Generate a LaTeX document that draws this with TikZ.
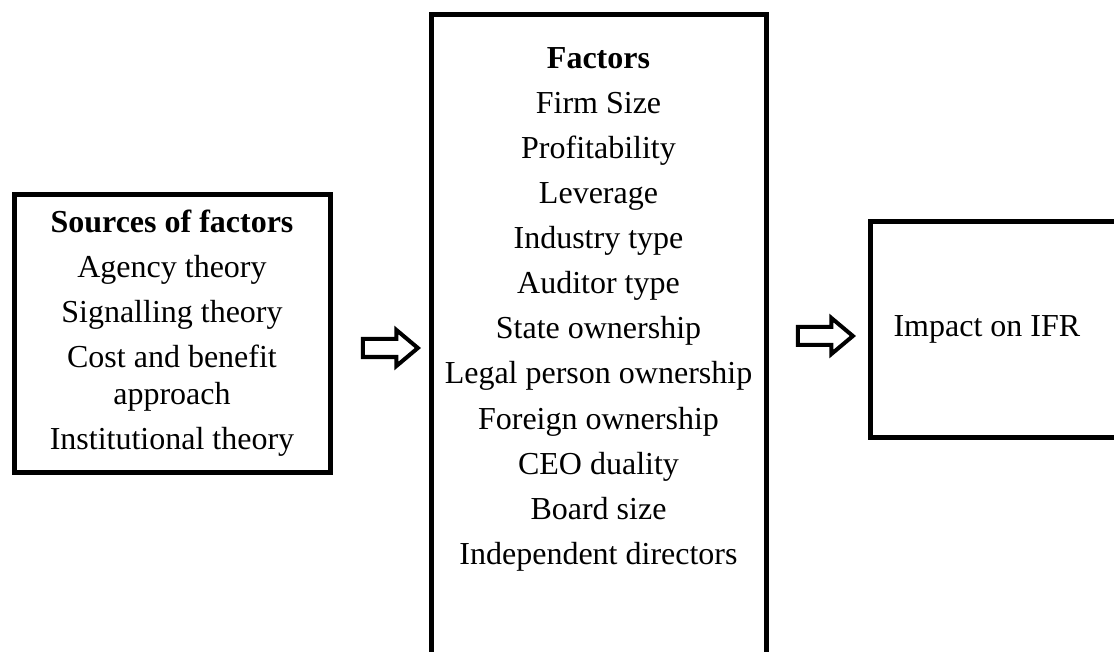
\documentclass[tikz,border=0pt]{standalone}
\usepackage{fontspec}
\setmainfont{Liberation Serif}
\usetikzlibrary{shapes.arrows, positioning}
\tikzset{
  boxframe/.style={
    draw=black, line width=5pt, align=center,
    inner sep=0pt,
  },
  blockarrow/.style={
    single arrow, draw=black, line width=4pt,
    minimum height=55, inner sep=7pt,
    single arrow head extend=9pt, single arrow tip angle=80,
  },
}

\begin{document}
\begin{tikzpicture}[x=1pt, y=-1pt, font=\fontsize{32}{45}\selectfont]
  \useasboundingbox (0,0) rectangle (1114,652);
  \clip (0,0) rectangle (1114,652);

  % Theories box
  \node[boxframe, minimum width=316, minimum height=277] (src) at (172,333.5)
    {\textbf{Sources of factors}\\Agency theory\\Signalling theory\\
     Cost and benefit\\[-8pt]approach\\Institutional theory};

  % Factors column, runs past the bottom edge
  \node[boxframe, anchor=north, minimum width=335, minimum height=700] (fac) at (598.5,12) {};
  \node[anchor=base] (f0) at (598.5,69) {\textbf{Factors}};
  \foreach \i/\lbl in {1/Firm Size, 2/Profitability, 3/Leverage, 4/Industry type,
      5/Auditor type, 6/State ownership, 7/Legal person ownership,
      8/Foreign ownership, 9/CEO duality, 10/Board size, 11/Independent directors} {
    \node[anchor=base] (f\i) at (598.5,{69+45*\i}) {\lbl};
  }

  % Outcome box, cut at the right edge
  \node[boxframe, anchor=west, minimum width=300, minimum height=215] (imp) at (868,329.5) {};
  \node[anchor=west] (ifr) at ([xshift=22pt]imp.west) {Impact on IFR};

  % Block arrows between the boxes
  \node[blockarrow] (a1) at (385,348) {};
  \node[blockarrow] (a2) at (820,336) {};
\end{tikzpicture}
\end{document}
